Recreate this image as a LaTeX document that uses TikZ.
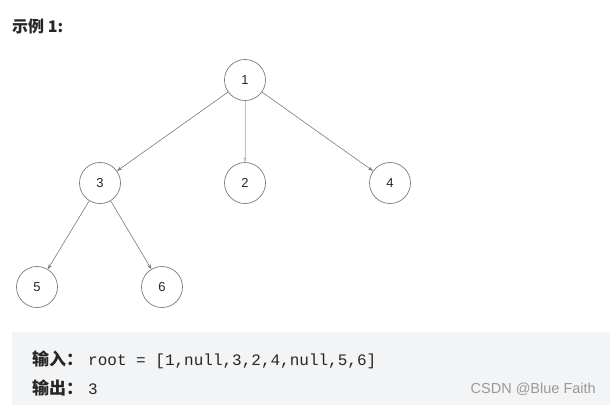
\documentclass[tikz,border=0pt]{standalone}
\usepackage{fontspec}
\setmainfont{Liberation Sans}
\newfontfamily\cjk{Noto Sans CJK SC}
\newfontfamily\mono{Liberation Mono}
\usetikzlibrary{arrows.meta}
\definecolor{boxgray}{HTML}{F3F4F5}
\definecolor{edgegray}{HTML}{7A7A7A}
\tikzset{
  treenode/.style={circle,draw=edgegray,line width=0.7pt,minimum size=41pt,inner sep=0pt,font=\fontsize{13}{13}\selectfont,text=black!85},
  treeedge/.style={draw=edgegray,line width=0.6pt,-{Stealth[length=5pt,width=3.5pt]}},
  lightedge/.style={draw=black!25,line width=0.6pt,-{Stealth[length=5pt,width=3.5pt,fill=black!70]}},
}
\begin{document}
\begin{tikzpicture}[x=1pt,y=-1pt]
\useasboundingbox (0,0) rectangle (610,405);
\fill[boxgray] (12,332) rectangle (610,405);
\node[anchor=west,inner sep=0pt,font=\cjk\bfseries\fontsize{16}{16}\selectfont,text=black!85] (title) at (12,26) {示例 1:};
\node[treenode] (n1) at (245,80) {1};
\node[treenode] (n3) at (100,183) {3};
\node[treenode] (n2) at (245,183) {2};
\node[treenode] (n4) at (390,183) {4};
\node[treenode] (n5) at (37,287) {5};
\node[treenode] (n6) at (162,287) {6};
\draw[treeedge] (n1) -- (n3);
\draw[lightedge] (n1) -- (n2);
\draw[treeedge] (n1) -- (n4);
\draw[treeedge] (n3) -- (n5);
\draw[treeedge] (n3) -- (n6);
\node[anchor=west,inner sep=0pt,text=black!85] (in) at (32,360) {{\cjk\bfseries\fontsize{17}{17}\selectfont 输入：}\hspace{5pt}{\mono\fontsize{16}{16}\selectfont root = [1,null,3,2,4,null,5,6]}};
\node[anchor=west,inner sep=0pt,text=black!85] (out) at (32,388) {{\cjk\bfseries\fontsize{17}{17}\selectfont 输出：}\hspace{5pt}{\mono\fontsize{16}{16}\selectfont 3}};
\node[anchor=east,inner sep=0pt,text=black!40,font=\fontsize{14.5}{14.5}\selectfont] (wm) at (596,389) {CSDN @Blue Faith};
\end{tikzpicture}
\end{document}
